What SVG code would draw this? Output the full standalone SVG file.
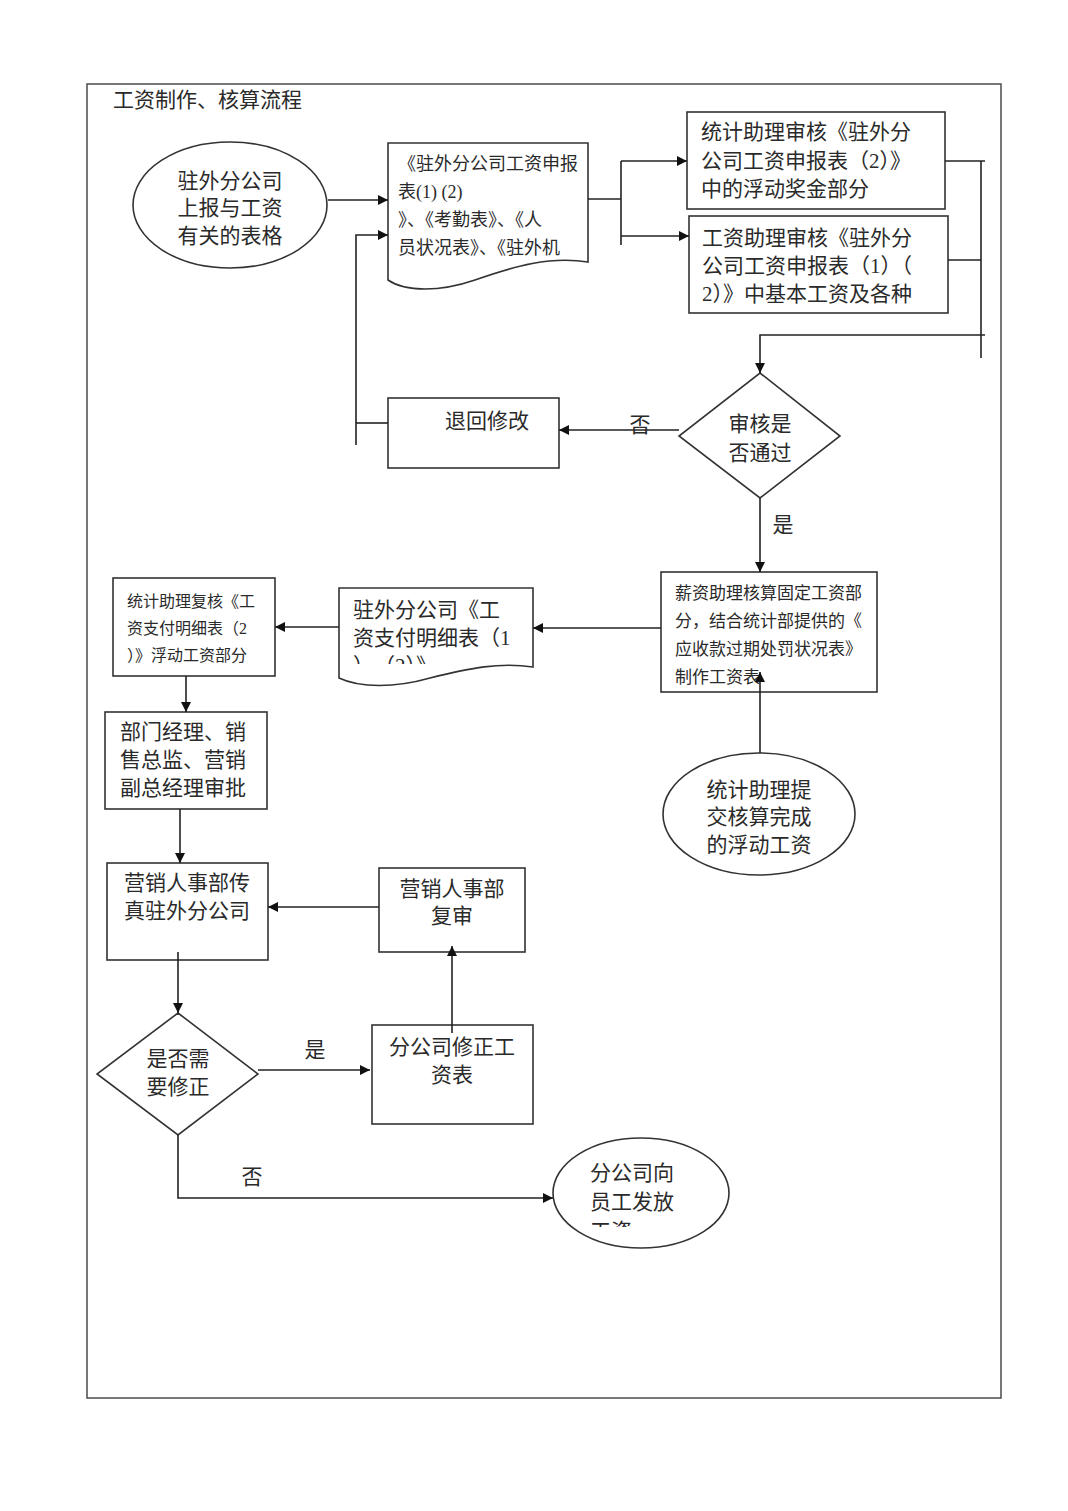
<svg xmlns="http://www.w3.org/2000/svg" width="1068" height="1511" viewBox="0 0 1068 1511">
<style>
  .t { font-family: "Liberation Serif", "Noto Sans CJK SC", serif; fill: #2a2a2a; }
  .f21 { font-size: 21px; }
  .f18 { font-size: 18px; }
  .f17 { font-size: 17px; }
  .f16 { font-size: 16px; }
  .m { text-anchor: middle; }
  .shape { fill: #ffffff; stroke: #333333; stroke-width: 1.6; }
  .ln { fill: none; stroke: #222222; stroke-width: 1.6; }
</style>
<defs>
  <marker id="arr" viewBox="0 0 10 10" refX="10" refY="5" markerWidth="10" markerHeight="10" markerUnits="userSpaceOnUse" orient="auto">
    <path d="M0,0 L10,5 L0,10 Z" fill="#111111"/>
  </marker>
  <clipPath id="clipDoc2"><rect x="339" y="588" width="194" height="76"/></clipPath>
  <clipPath id="clipEll3"><rect x="553" y="1137" width="178" height="90"/></clipPath>
</defs>
<rect x="0" y="0" width="1068" height="1511" fill="#ffffff"/>
<rect id="frame" x="87" y="84" width="914" height="1314" fill="none" stroke="#555555" stroke-width="1.6"/>
<text id="title" class="t f21" x="113" y="107">工资制作、核算流程</text>

<g id="n-start">
  <ellipse class="shape" cx="230" cy="205" rx="97" ry="63"/>
  <text class="t f21 m" x="230" y="188">驻外分公司</text>
  <text class="t f21 m" x="230" y="215">上报与工资</text>
  <text class="t f21 m" x="230" y="243">有关的表格</text>
</g>

<g id="n-doc1">
  <path class="shape" d="M388,143 H588 V262 C550,256 515,266 475,280 C440,292 405,292 388,280 Z"/>
  <text class="t f18" x="398" y="170">《驻外分公司工资申报</text>
  <text class="t f18" x="398" y="198">表(1) (2)</text>
  <text class="t f18" x="398" y="226">》、《考勤表》、《人</text>
  <text class="t f18" x="398" y="254">员状况表》、《驻外机</text>
</g>

<g id="n-check1">
  <rect class="shape" x="687" y="112" width="258" height="97"/>
  <text class="t f21" x="701" y="139">统计助理审核《驻外分</text>
  <text class="t f21" x="701" y="168">公司工资申报表（2）》</text>
  <text class="t f21" x="701" y="196">中的浮动奖金部分</text>
</g>

<g id="n-check2">
  <rect class="shape" x="689" y="216" width="259" height="97"/>
  <text class="t f21" x="702" y="245">工资助理审核《驻外分</text>
  <text class="t f21" x="702" y="273">公司工资申报表（1）（</text>
  <text class="t f21" x="702" y="301">2）》中基本工资及各种</text>
</g>

<g id="n-decision1">
  <polygon class="shape" points="760,373 840,436 760,498 679,436"/>
  <text class="t f21 m" x="760" y="431">审核是</text>
  <text class="t f21 m" x="760" y="460">否通过</text>
</g>

<g id="n-return">
  <rect class="shape" x="388" y="398" width="171" height="70"/>
  <text class="t f21" x="445" y="428">退回修改</text>
</g>

<g id="n-salary">
  <rect class="shape" x="661" y="572" width="216" height="120"/>
  <text class="t f17" x="675" y="599">薪资助理核算固定工资部</text>
  <text class="t f17" x="675" y="627">分，结合统计部提供的《</text>
  <text class="t f17" x="675" y="655">应收款过期处罚状况表》</text>
  <text class="t f17" x="675" y="683">制作工资表</text>
</g>

<g id="n-float">
  <ellipse class="shape" cx="759" cy="814" rx="96" ry="61"/>
  <text class="t f21 m" x="759" y="797">统计助理提</text>
  <text class="t f21 m" x="759" y="824">交核算完成</text>
  <text class="t f21 m" x="759" y="852">的浮动工资</text>
</g>

<g id="n-doc2">
  <path class="shape" d="M339,588 H533 V667 C500,662 470,668 430,678 C395,688 360,688 339,678 Z"/>
  <g clip-path="url(#clipDoc2)">
    <text class="t f21" x="353" y="617">驻外分公司《工</text>
    <text class="t f21" x="353" y="645">资支付明细表（1</text>
    <text class="t f21" x="353" y="673">）、（2）》</text>
  </g>
</g>

<g id="n-recheck">
  <rect class="shape" x="113" y="578" width="162" height="98"/>
  <text class="t f16" x="127" y="607">统计助理复核《工</text>
  <text class="t f16" x="127" y="634">资支付明细表（2</text>
  <text class="t f16" x="127" y="661">）》浮动工资部分</text>
</g>

<g id="n-approve">
  <rect class="shape" x="105" y="712" width="162" height="97"/>
  <text class="t f21" x="120" y="739">部门经理、销</text>
  <text class="t f21" x="120" y="767">售总监、营销</text>
  <text class="t f21" x="120" y="795">副总经理审批</text>
</g>

<g id="n-fax">
  <rect class="shape" x="107" y="863" width="161" height="97"/>
  <text class="t f21 m" x="187" y="890">营销人事部传</text>
  <text class="t f21 m" x="187" y="918">真驻外分公司</text>
</g>

<g id="n-review">
  <rect class="shape" x="379" y="868" width="146" height="84"/>
  <text class="t f21 m" x="452" y="896">营销人事部</text>
  <text class="t f21 m" x="452" y="923">复审</text>
</g>

<g id="n-decision2">
  <polygon class="shape" points="178,1013 258,1074 178,1135 97,1074"/>
  <text class="t f21 m" x="178" y="1066">是否需</text>
  <text class="t f21 m" x="178" y="1094">要修正</text>
</g>

<g id="n-fix">
  <rect class="shape" x="372" y="1025" width="161" height="99"/>
  <text class="t f21 m" x="452" y="1054">分公司修正工</text>
  <text class="t f21 m" x="452" y="1082">资表</text>
</g>

<g id="n-pay">
  <ellipse class="shape" cx="641" cy="1193" rx="88" ry="55"/>
  <g clip-path="url(#clipEll3)">
    <text class="t f21" x="590" y="1180">分公司向</text>
    <text class="t f21" x="590" y="1209">员工发放</text>
    <text class="t f21" x="590" y="1238">工资</text>
  </g>
</g>

<g id="connectors">
  <line class="ln" x1="328" y1="200" x2="388" y2="200" marker-end="url(#arr)"/>
  <polyline class="ln" points="388,423 356,423"/>
  <polyline class="ln" points="356,445 356,235 388,235" marker-end="url(#arr)"/>
  <polyline class="ln" points="588,199 621,199"/>
  <line class="ln" x1="621" y1="161" x2="621" y2="245"/>
  <line class="ln" x1="621" y1="161" x2="687" y2="161" marker-end="url(#arr)"/>
  <line class="ln" x1="621" y1="236" x2="689" y2="236" marker-end="url(#arr)"/>
  <line class="ln" x1="945" y1="161" x2="985" y2="161"/>
  <line class="ln" x1="948" y1="260" x2="981" y2="260"/>
  <line class="ln" x1="981" y1="161" x2="981" y2="358"/>
  <polyline class="ln" points="985,335 760,335 760,373" marker-end="url(#arr)"/>
  <line class="ln" x1="679" y1="430" x2="559" y2="430" marker-end="url(#arr)"/>
  <line class="ln" x1="760" y1="498" x2="760" y2="572" marker-end="url(#arr)"/>
  <line class="ln" x1="760" y1="753" x2="760" y2="672" marker-end="url(#arr)"/>
  <line class="ln" x1="661" y1="628" x2="533" y2="628" marker-end="url(#arr)"/>
  <line class="ln" x1="339" y1="627" x2="275" y2="627" marker-end="url(#arr)"/>
  <line class="ln" x1="186" y1="676" x2="186" y2="712" marker-end="url(#arr)"/>
  <line class="ln" x1="180" y1="809" x2="180" y2="863" marker-end="url(#arr)"/>
  <line class="ln" x1="379" y1="907" x2="268" y2="907" marker-end="url(#arr)"/>
  <line class="ln" x1="178" y1="952" x2="178" y2="1013" marker-end="url(#arr)"/>
  <line class="ln" x1="258" y1="1070" x2="370" y2="1070" marker-end="url(#arr)"/>
  <line class="ln" x1="452" y1="1033" x2="452" y2="946" marker-end="url(#arr)"/>
  <polyline class="ln" points="178,1135 178,1198 553,1198" marker-end="url(#arr)"/>
  <text class="t f21 m" x="640" y="432">否</text>
  <text class="t f21 m" x="783" y="532">是</text>
  <text class="t f21 m" x="315" y="1057">是</text>
  <text class="t f21 m" x="252" y="1184">否</text>
</g>
</svg>
